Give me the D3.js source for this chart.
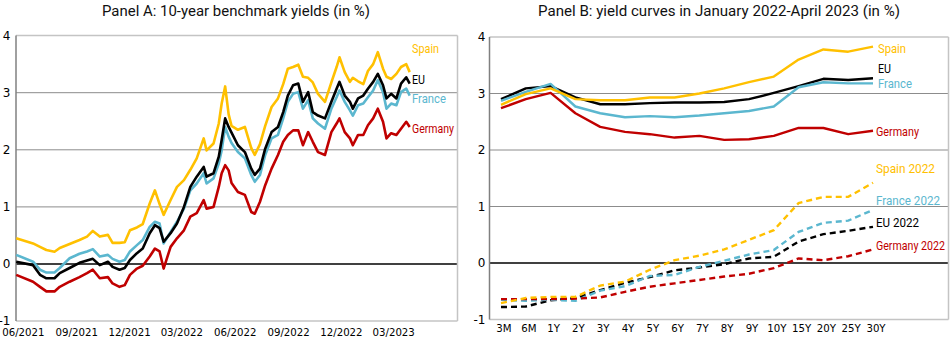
<!DOCTYPE html>
<html><head><meta charset="utf-8">
<script src="https://cdn.jsdelivr.net/npm/d3@7"></script>
<style>
body{margin:0;background:#fff;}
svg{display:block;}
.lbl{font-family:Roboto,"Noto Sans",sans-serif;font-weight:400;}
.tk{font-family:"DejaVu Sans",Verdana,sans-serif;fill:#000;}
</style></head><body>
<svg id="c" width="950" height="340"></svg>
<script>
// ---------- Panel A data: 10-year benchmark yields (%) ----------
const datesA = ["2021-06-26","2021-07-25","2021-08-06","2021-08-17","2021-08-31","2021-09-09","2021-09-26","2021-10-13","2021-10-26","2021-11-05",
"2021-11-17","2021-12-01","2021-12-09","2021-12-21","2021-12-30","2022-01-08","2022-01-20","2022-01-30","2022-02-11","2022-02-20",
"2022-02-28","2022-03-07","2022-03-19","2022-03-30","2022-04-11","2022-04-22","2022-05-03","2022-05-15","2022-05-20","2022-06-01",
"2022-06-10","2022-06-15","2022-06-21","2022-06-27","2022-07-02","2022-07-13","2022-07-25","2022-08-05","2022-08-11","2022-08-20",
"2022-08-29","2022-09-09","2022-09-20","2022-09-29","2022-10-07","2022-10-16","2022-10-25","2022-11-02","2022-11-11","2022-11-19",
"2022-11-28","2022-12-10","2022-12-21","2022-12-30","2023-01-04","2023-01-13","2023-01-22","2023-01-27","2023-02-05","2023-02-14",
"2023-02-22","2023-03-03","2023-03-11","2023-03-20","2023-03-26","2023-04-03","2023-04-12","2023-04-20","2023-04-29","2023-05-05"];
const spainA = [0.45,0.36,0.30,0.245,0.215,0.28,0.35,0.42,0.48,0.58,
0.48,0.51,0.37,0.37,0.38,0.59,0.64,0.70,1.06,1.29,
1.05,0.86,1.12,1.35,1.47,1.65,1.85,2.20,1.99,2.11,
2.46,2.81,3.11,2.62,2.42,2.35,2.40,2.03,1.91,2.10,
2.42,2.75,2.90,3.15,3.42,3.45,3.49,3.28,3.26,3.18,
2.98,2.84,3.18,3.45,3.62,3.36,3.19,3.26,3.20,3.15,
3.38,3.50,3.71,3.42,3.28,3.24,3.33,3.45,3.50,3.36];
const euA = [0.04,-0.02,-0.19,-0.25,-0.25,-0.16,-0.07,0.02,0.06,0.09,
-0.02,0.04,-0.05,-0.10,-0.07,0.07,0.19,0.27,0.54,0.68,
0.63,0.39,0.54,0.71,1.00,1.35,1.53,1.70,1.53,1.59,
1.88,2.17,2.55,2.40,2.30,2.08,1.96,1.67,1.56,1.67,
2.02,2.31,2.40,2.66,2.95,3.13,3.16,2.84,3.01,2.66,
2.60,2.55,2.84,3.07,3.19,2.95,2.84,2.72,2.90,2.95,
3.07,3.19,3.33,3.13,2.90,2.98,2.90,3.16,3.27,3.16];
const franceA = [0.16,0.04,-0.10,-0.15,-0.15,-0.07,0.10,0.18,0.22,0.26,
0.13,0.16,0.09,0.04,0.07,0.22,0.33,0.42,0.65,0.74,
0.71,0.36,0.56,0.74,0.97,1.29,1.41,1.59,1.41,1.50,
1.76,1.99,2.40,2.23,2.12,1.96,1.85,1.56,1.44,1.56,
1.91,2.20,2.26,2.55,2.84,2.98,3.01,2.72,2.87,2.55,
2.46,2.37,2.72,2.92,3.04,2.84,2.69,2.60,2.78,2.81,
2.92,3.04,3.22,3.01,2.72,2.81,2.78,3.01,3.07,2.95];
const germanyA = [-0.19,-0.31,-0.40,-0.48,-0.48,-0.40,-0.31,-0.23,-0.16,-0.10,
-0.25,-0.23,-0.34,-0.40,-0.37,-0.19,-0.08,-0.03,0.13,0.27,
0.22,-0.08,0.30,0.45,0.59,0.83,0.89,1.12,0.97,1.00,
1.35,1.59,1.73,1.64,1.42,1.26,1.21,0.91,0.88,1.09,
1.38,1.67,1.91,2.14,2.26,2.34,2.34,2.08,2.31,2.14,
1.96,1.91,2.31,2.46,2.55,2.31,2.20,2.08,2.26,2.26,
2.43,2.55,2.72,2.49,2.20,2.29,2.26,2.37,2.49,2.40];
const xTickDatesA = ["2021-06-01","2021-09-01","2021-12-01","2022-03-01","2022-06-01","2022-09-01","2022-12-01","2023-03-01"];
const xTickLabelsA = ["06/2021","09/2021","12/2021","03/2022","06/2022","09/2022","12/2022","03/2023"];
const yTicks = [-1,0,1,2,3,4];
const namesA = ["Spain","EU","France","Germany"];

// ---------- Panel B data: yield curves (%) ----------
const maturities = ["3M","6M","1Y","2Y","3Y","4Y","5Y","6Y","7Y","8Y","9Y","10Y","15Y","20Y","25Y","30Y"];
const spainB = [2.80,2.99,3.09,2.90,2.88,2.88,2.93,2.93,3.00,3.09,3.20,3.30,3.60,3.78,3.74,3.83];
const euB = [2.90,3.09,3.13,2.93,2.81,2.81,2.83,2.84,2.84,2.85,2.90,3.01,3.13,3.26,3.24,3.27];
const franceB = [2.87,3.03,3.17,2.77,2.65,2.58,2.60,2.58,2.61,2.65,2.69,2.77,3.11,3.20,3.18,3.18];
const germanyB = [2.74,2.90,3.01,2.65,2.41,2.32,2.28,2.22,2.25,2.18,2.19,2.25,2.39,2.39,2.28,2.34];
const spain2022 = [-0.71,-0.62,-0.60,-0.60,-0.40,-0.33,-0.12,0.05,0.13,0.24,0.41,0.58,1.06,1.17,1.17,1.42];
const eu2022 = [-0.78,-0.77,-0.66,-0.62,-0.48,-0.35,-0.25,-0.13,-0.08,-0.02,0.08,0.11,0.38,0.51,0.57,0.64];
const france2022 = [-0.65,-0.67,-0.65,-0.67,-0.49,-0.41,-0.23,-0.21,-0.07,0.04,0.15,0.23,0.55,0.71,0.75,0.94];
const germany2022 = [-0.64,-0.64,-0.64,-0.63,-0.61,-0.51,-0.42,-0.36,-0.30,-0.24,-0.19,-0.09,0.08,0.05,0.12,0.24];
const namesB = ["Spain","EU","France","Germany","Spain 2022","France 2022","EU 2022","Germany 2022"];

const titles = ["Panel A: 10-year benchmark yields (in %)","Panel B: yield curves in January 2022-April 2023 (in %)"];

// ---------- drawing ----------
const C = {Spain:"#FFC000", EU:"#000000", France:"#5BB7CF", Germany:"#C00000"};
const svg = d3.select("#c");
const parse = d3.timeParse("%Y-%m-%d");

function fitText(sel, w) {
  sel.attr("textLength", w).attr("lengthAdjust", "spacingAndGlyphs");
}

function frame(g, x0, x1, y, labelGap) {
  yTicks.forEach(v => {
    const yy = y(v);
    let col = "#8c8c8c", w = 1;
    if (v === 0) { col = "#000"; w = 1.6; }
    if (v === 4 || v === -1) { col = "#c4c4c4"; w = 1.5; }
    g.append("line").attr("x1", x0).attr("x2", x1).attr("y1", yy).attr("y2", yy)
      .attr("stroke", col).attr("stroke-width", w);
    g.append("text").attr("class","tk").attr("x", x0 - labelGap).attr("y", yy)
      .attr("text-anchor","end").attr("dominant-baseline","central")
      .attr("font-size", 12).text(v);
  });
  g.append("line").attr("x1", x1).attr("x2", x1).attr("y1", y(4)).attr("y2", y(-1))
    .attr("stroke","#c4c4c4").attr("stroke-width",1.5);
  g.append("line").attr("x1", x0).attr("x2", x0).attr("y1", y(4)).attr("y2", y(-1))
    .attr("stroke","#808080").attr("stroke-width",1.5);
}

// Panel A
const gA = svg.append("g");
const xA = d3.scaleTime().domain([parse("2021-06-01"), parse("2023-03-01")]).range([1.7, 372]);
const yA = d3.scaleLinear().domain([-1, 4]).range([321.1, 35.6]);
frame(gA, 16, 457.5, yA, 5.5);
const dA = datesA.map(parse);
const lineA = d3.line().x((d,i) => xA(dA[i])).y(d => yA(d));
[["Spain",spainA],["Germany",germanyA],["France",franceA],["EU",euA]].forEach(([n,arr]) => {
  gA.append("path").attr("d", lineA(arr)).attr("fill","none").attr("stroke", C[n])
    .attr("stroke-width", 2.6).attr("stroke-linejoin","round");
});
xTickDatesA.forEach((d,i) => {
  gA.append("text").attr("class","tk").attr("x", xA(parse(d)) + 0.5).attr("y", 332)
    .attr("dominant-baseline","central").attr("font-size", 10.2).text(xTickLabelsA[i]);
});
const labA = {Spain:[48,27], EU:[79,13], France:[98,34], Germany:[128,42]};
namesA.forEach(n => {
  gA.append("text").attr("class","lbl").attr("x", 412).attr("y", labA[n][0])
    .attr("dominant-baseline","central").attr("font-size", 13.5).attr("fill", C[n]).text(n)
    .call(fitText, labA[n][1]);
});
gA.append("text").attr("class","lbl").attr("x", 102).attr("y", 15.5)
  .attr("font-size", 15.5).attr("fill","#111").text(titles[0]).call(fitText, 268);

// Panel B
const gB = svg.append("g");
const xB = d3.scalePoint().domain(maturities).range([501, 873]);
const yB = d3.scaleLinear().domain([-1, 4]).range([319.5, 37]);
frame(gB, 489.5, 948.5, yB, 4);
const lineB = d3.line().x((d,i) => xB(maturities[i])).y(d => yB(d));
[["EU",euB],["France",franceB],["Germany",germanyB],["Spain",spainB]].forEach(([n,arr]) => {
  gB.append("path").attr("d", lineB(arr)).attr("fill","none").attr("stroke", C[n])
    .attr("stroke-width", 2.4).attr("stroke-linejoin","round");
});
[["EU",eu2022],["France",france2022],["Germany",germany2022],["Spain",spain2022]].forEach(([n,arr]) => {
  gB.append("path").attr("d", lineB(arr)).attr("fill","none").attr("stroke", C[n])
    .attr("stroke-width", 2.4).attr("stroke-dasharray","6,4");
});
maturities.forEach(m => {
  gB.append("text").attr("class","tk").attr("x", xB(m) + 3).attr("y", 328.5)
    .attr("text-anchor","middle").attr("dominant-baseline","central").attr("font-size", 10.2).text(m);
});
const labB = [["Spain",878,47.5,28,"Spain"],["EU",878,68,13,"EU"],["France",878,82.7,34,"France"],["Germany",876,130.5,43,"Germany"],
  ["Spain",876,167.5,59,"Spain 2022"],["France",876,199.5,64,"France 2022"],["EU",876,222,43,"EU 2022"],["Germany",876,245,69,"Germany 2022"]];
labB.forEach(([n,x,y,w,t]) => {
  gB.append("text").attr("class","lbl").attr("x", x).attr("y", y)
    .attr("dominant-baseline","central").attr("font-size", 13.5).attr("fill", C[n]).text(t)
    .call(fitText, w);
});
gB.append("text").attr("class","lbl").attr("x", 538).attr("y", 15.5)
  .attr("font-size", 15.5).attr("fill","#111").text(titles[1]).call(fitText, 362);
</script>
</body></html>
